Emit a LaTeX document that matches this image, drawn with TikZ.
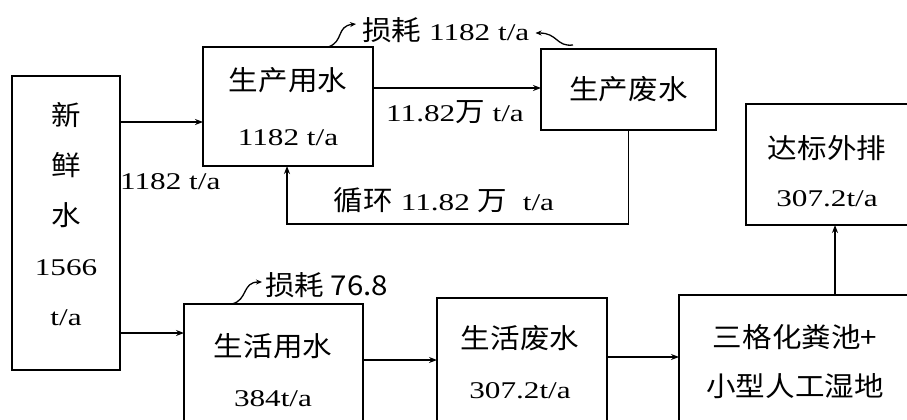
\documentclass[tikz,border=0pt]{standalone}
\usepackage{fontspec}
\setmainfont[FakeStretch=1.3]{Liberation Serif}
\newfontfamily\cjk[FakeStretch=1.08, Scale=1.14]{Noto Sans CJK SC}
\usetikzlibrary{arrows.meta}
\begin{document}
\begin{tikzpicture}[x=1pt,y=-1pt,
  box/.style={draw, line width=1.4pt, inner sep=0pt, outer sep=0pt, align=center,
              font=\fontsize{24}{55}\selectfont},
  txt/.style={inner sep=0pt, align=center, font=\fontsize{24}{50}\selectfont},
  arr/.style={line width=1.5pt, -{Stealth[length=8pt,width=6pt]}},
  sq/.style={line width=1.3pt, -{Stealth[length=6pt,width=5pt]}}]
\useasboundingbox (0,0) rectangle (907,420);
\clip (0,0) rectangle (907,420);
\fill[white] (0,0) rectangle (907,420);

% boxes
\node[box, minimum width=108, minimum height=294] (xxs) at (66,223) {};
\node[txt, font=\fontsize{24}{50}\selectfont] (xxst) at (66,214) {{\cjk 新}\\{\cjk 鲜}\\{\cjk 水}\\1566\\t/a};
\node[box, minimum width=170, minimum height=119] (scys) at (288,106.5) {{\cjk 生产用水}\\1182 t/a};
\node[box, minimum width=175, minimum height=81] (scfs) at (628.5,89.5) {\cjk 生产废水};
\node[box, anchor=north west, minimum width=200, minimum height=121] (dbwp) at (746,104) {};
\node[txt, font=\fontsize{24}{48}\selectfont] (dbwpt) at (827,171) {{\cjk 达标外排}\\307.2t/a};
\node[box, anchor=north west, minimum width=179, minimum height=200] (shys) at (184,304) {};
\node[txt] (shyst) at (273,370) {{\cjk 生活用水}\\384t/a};
\node[box, anchor=north west, minimum width=170, minimum height=200] (shfs) at (437,298) {};
\node[txt] (shfst) at (520,362) {{\cjk 生活废水}\\307.2t/a};
\node[box, anchor=north west, minimum width=300, minimum height=200] (sgc) at (679,295) {};
\node[txt, font=\fontsize{24}{49}\selectfont] (sgct) at (795,362) {{\cjk 三格化粪池+}\\{\cjk 小型人工湿地}};

% labels
\node[txt, anchor=west] (l1) at (120,182) {1182 t/a};
\node[txt] (l2) at (455,112) {11.82{\cjk 万} t/a};
\node[txt] (l3) at (444,200) {{\cjk 循环} 11.82 {\cjk 万}\ \ t/a};
\node[txt, anchor=west] (ls1) at (362,30) {{\cjk 损耗} 1182 t/a};
\node[txt, anchor=west] (ls2) at (265,285) {\cjk 损耗 76.8};

% connectors
\draw[arr] (xxs.east |- 0,122) -- (scys.west |- 0,122);
\draw[arr] (scys.east |- 0,88) -- (scfs.west |- 0,88);
\draw[arr] (scfs.south) -- (scfs.south |- 0,224) -| (scys.south -| 287,0);
\draw[arr] (xxs.east |- 0,333) -- (shys.west |- 0,333);
\draw[arr] (shys.east |- 0,360) -- (shfs.west |- 0,360);
\draw[arr] (shfs.east |- 0,357) -- (sgc.west |- 0,357);
\draw[arr] (sgc.north -| 835,0) -- (dbwp.south -| 835,0);

% loss squiggles
\draw[sq] (scys.north -| 328,0) .. controls (344,42) and (336,26) .. ([shift={(-6,-6)}]ls1.west);
\draw[sq] ([shift={(32,-4)}]scfs.north west) .. controls (556,47) and (558,33) .. ([shift={(6,3)}]ls1.east);
\draw[sq] ([xshift=48]shys.north west) .. controls (248,300) and (242,282) .. ([shift={(-3,-3)}]ls2.west);
\end{tikzpicture}
\end{document}
